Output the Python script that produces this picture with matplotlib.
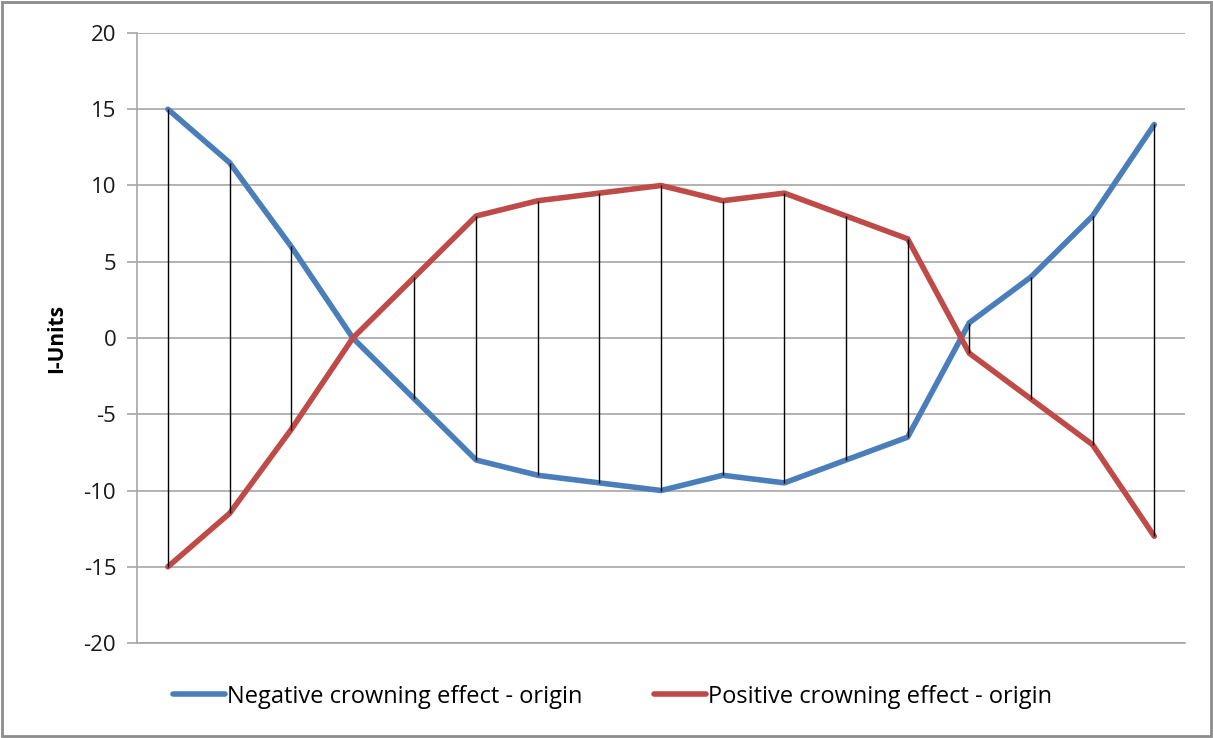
import matplotlib.pyplot as plt
from matplotlib.patches import Rectangle
import numpy as np

plt.rcParams["font.family"] = ["Open Sans", "DejaVu Sans"]
plt.rcParams["axes.unicode_minus"] = False

# I-unit readings at each of the 17 stations
negative = [15, 11.5, 6, 0, -4, -8, -9, -9.5, -10, -9, -9.5, -8, -6.5, 1, 4, 8, 14]
positive = [-15, -11.5, -6, 0, 4, 8, 9, 9.5, 10, 9, 9.5, 8, 6.5, -1, -4, -7, -13]
y_ticks = [-20, -15, -10, -5, 0, 5, 10, 15, 20]

x = np.arange(len(negative))

fig = plt.figure(figsize=(12.13, 7.38), dpi=100)
ax = fig.add_axes([0.113, 0.1287, 0.864, 0.8266])

ax.plot(x, negative, color="#4a7ebb", lw=4, solid_capstyle="round",
        solid_joinstyle="round", label="Negative crowning effect - origin", zorder=3)
ax.plot(x, positive, color="#be4b48", lw=4, solid_capstyle="round",
        solid_joinstyle="round", label="Positive crowning effect - origin", zorder=4)

# high-low lines between the two series
lo = np.minimum(negative, positive)
hi = np.maximum(negative, positive)
ax.vlines(x, lo, hi, color="black", lw=1, zorder=5)

ax.set_xlim(-0.5, len(negative) - 0.5)
ax.set_ylim(-20, 20)
ax.set_yticks(y_ticks)
ax.set_xticks([])
ax.grid(axis="y", color="#a6a6a6", lw=1.2, zorder=0)
ax.set_axisbelow(True)

for s in ["top", "right"]:
    ax.spines[s].set_visible(False)
ax.spines["left"].set_color("#a6a6a6")
ax.spines["bottom"].set_color("#a6a6a6")
ax.spines["left"].set_linewidth(1.2)
ax.spines["bottom"].set_linewidth(1.2)
ax.tick_params(axis="y", length=7, width=1.2, color="#a6a6a6",
               labelsize=16, pad=8, labelcolor="#1a1a1a")

ax.set_ylabel("I-Units", fontsize=15, fontweight="bold", labelpad=12)

fig.legend(loc="center", bbox_to_anchor=(0.505, 0.056), ncol=2, frameon=False,
           fontsize=17, handlelength=2.2, columnspacing=3.0, handletextpad=0.1)

fig.patches.append(Rectangle((0.002, 0.003), 0.996, 0.994, transform=fig.transFigure,
                             fill=False, edgecolor="#8c8c8c", lw=2))

fig.savefig("out.png", dpi=100)
